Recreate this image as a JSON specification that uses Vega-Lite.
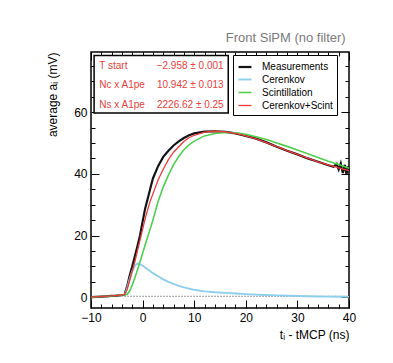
{
  "$schema": "https://vega.github.io/schema/vega-lite/v6.json",
  "width": 258,
  "height": 256,
  "autosize": {"type": "none"},
  "padding": {"left": 91, "top": 52, "right": 44, "bottom": 55},
  "background": "white",
  "config": {"font": "Liberation Sans", "view": {"stroke": "black", "strokeWidth": 1.5}},
  "title": {"text": "Front SiPM (no filter)", "anchor": "end", "fontSize": 13, "fontWeight": "normal", "color": "#7a7a7a", "offset": 7, "dx": -10, "font": "Liberation Sans"},
  "datasets": {
    "curves": [
      {"t": -10, "a": 0, "series": "Measurements"}, {"t": -9, "a": 0.1, "series": "Measurements"}, {"t": -8, "a": 0.2, "series": "Measurements"}, {"t": -7, "a": 0.3, "series": "Measurements"}, {"t": -6, "a": 0.4, "series": "Measurements"}, {"t": -5, "a": 0.5, "series": "Measurements"}, {"t": -4, "a": 0.65, "series": "Measurements"}, {"t": -3.5, "a": 0.8, "series": "Measurements"}, {"t": -3, "a": 3.5, "series": "Measurements"}, {"t": -2.5, "a": 7, "series": "Measurements"}, {"t": -2, "a": 10, "series": "Measurements"}, {"t": -1.5, "a": 13.3, "series": "Measurements"}, {"t": -1, "a": 16.5, "series": "Measurements"}, {"t": -0.5, "a": 20, "series": "Measurements"}, {"t": 0, "a": 24.5, "series": "Measurements"}, {"t": 0.5, "a": 28.8, "series": "Measurements"}, {"t": 1, "a": 32, "series": "Measurements"}, {"t": 1.5, "a": 35.3, "series": "Measurements"}, {"t": 2, "a": 38.5, "series": "Measurements"}, {"t": 3, "a": 42.5, "series": "Measurements"}, {"t": 4, "a": 45.5, "series": "Measurements"}, {"t": 5, "a": 47.5, "series": "Measurements"}, {"t": 6, "a": 49.2, "series": "Measurements"}, {"t": 7, "a": 50.5, "series": "Measurements"}, {"t": 8, "a": 51.6, "series": "Measurements"}, {"t": 9, "a": 52.5, "series": "Measurements"}, {"t": 10, "a": 53.1, "series": "Measurements"}, {"t": 12, "a": 53.7, "series": "Measurements"}, {"t": 14, "a": 53.8, "series": "Measurements"}, {"t": 16, "a": 53.6, "series": "Measurements"}, {"t": 18, "a": 53.1, "series": "Measurements"}, {"t": 20, "a": 52.3, "series": "Measurements"}, {"t": 22, "a": 51.4, "series": "Measurements"}, {"t": 24, "a": 50.2, "series": "Measurements"}, {"t": 26, "a": 48.8, "series": "Measurements"}, {"t": 28, "a": 47.5, "series": "Measurements"}, {"t": 30, "a": 46.3, "series": "Measurements"}, {"t": 32, "a": 45, "series": "Measurements"}, {"t": 34, "a": 43.9, "series": "Measurements"}, {"t": 36, "a": 42.8, "series": "Measurements"}, {"t": 37, "a": 42.3, "series": "Measurements"}, {"t": 37.6, "a": 43.2, "series": "Measurements"}, {"t": 38, "a": 41.4, "series": "Measurements"}, {"t": 38.4, "a": 43.4, "series": "Measurements"}, {"t": 38.8, "a": 40.3, "series": "Measurements"}, {"t": 39.2, "a": 42.9, "series": "Measurements"}, {"t": 39.5, "a": 39.8, "series": "Measurements"}, {"t": 39.8, "a": 42.4, "series": "Measurements"}, {"t": 40, "a": 40.8, "series": "Measurements"},
      {"t": -3.5, "a": 0.5, "series": "Cerenkov"}, {"t": -3, "a": 3, "series": "Cerenkov"}, {"t": -2.5, "a": 6, "series": "Cerenkov"}, {"t": -2, "a": 8.5, "series": "Cerenkov"}, {"t": -1.5, "a": 10.2, "series": "Cerenkov"}, {"t": -1, "a": 10.9, "series": "Cerenkov"}, {"t": -0.5, "a": 10.7, "series": "Cerenkov"}, {"t": 0, "a": 10.2, "series": "Cerenkov"}, {"t": 0.5, "a": 9.6, "series": "Cerenkov"}, {"t": 1, "a": 9, "series": "Cerenkov"}, {"t": 1.5, "a": 8.4, "series": "Cerenkov"}, {"t": 2, "a": 7.8, "series": "Cerenkov"}, {"t": 3, "a": 6.8, "series": "Cerenkov"}, {"t": 4, "a": 5.8, "series": "Cerenkov"}, {"t": 5, "a": 5, "series": "Cerenkov"}, {"t": 6, "a": 4.3, "series": "Cerenkov"}, {"t": 7, "a": 3.7, "series": "Cerenkov"}, {"t": 8, "a": 3.2, "series": "Cerenkov"}, {"t": 9, "a": 2.8, "series": "Cerenkov"}, {"t": 10, "a": 2.4, "series": "Cerenkov"}, {"t": 12, "a": 1.9, "series": "Cerenkov"}, {"t": 14, "a": 1.6, "series": "Cerenkov"}, {"t": 16, "a": 1.4, "series": "Cerenkov"}, {"t": 18, "a": 1.2, "series": "Cerenkov"}, {"t": 20, "a": 1.0, "series": "Cerenkov"}, {"t": 22, "a": 0.85, "series": "Cerenkov"}, {"t": 24, "a": 0.7, "series": "Cerenkov"}, {"t": 26, "a": 0.6, "series": "Cerenkov"}, {"t": 28, "a": 0.5, "series": "Cerenkov"}, {"t": 30, "a": 0.4, "series": "Cerenkov"}, {"t": 32, "a": 0.3, "series": "Cerenkov"}, {"t": 34, "a": 0.25, "series": "Cerenkov"}, {"t": 36, "a": 0.2, "series": "Cerenkov"}, {"t": 38, "a": 0.15, "series": "Cerenkov"}, {"t": 40, "a": 0.1, "series": "Cerenkov"},
      {"t": -10, "a": 0, "series": "Scintillation"}, {"t": -6, "a": 0.4, "series": "Scintillation"}, {"t": -3.5, "a": 0.8, "series": "Scintillation"}, {"t": -3, "a": 0.9, "series": "Scintillation"}, {"t": -2.5, "a": 2, "series": "Scintillation"}, {"t": -2, "a": 4, "series": "Scintillation"}, {"t": -1.5, "a": 6.3, "series": "Scintillation"}, {"t": -1, "a": 8.8, "series": "Scintillation"}, {"t": -0.5, "a": 11.5, "series": "Scintillation"}, {"t": 0, "a": 14.2, "series": "Scintillation"}, {"t": 0.5, "a": 17, "series": "Scintillation"}, {"t": 1, "a": 19.7, "series": "Scintillation"}, {"t": 1.5, "a": 22.3, "series": "Scintillation"}, {"t": 2, "a": 25, "series": "Scintillation"}, {"t": 3, "a": 31, "series": "Scintillation"}, {"t": 4, "a": 35.7, "series": "Scintillation"}, {"t": 5, "a": 39.6, "series": "Scintillation"}, {"t": 6, "a": 43, "series": "Scintillation"}, {"t": 7, "a": 45.6, "series": "Scintillation"}, {"t": 8, "a": 47.8, "series": "Scintillation"}, {"t": 9, "a": 49.4, "series": "Scintillation"}, {"t": 10, "a": 50.6, "series": "Scintillation"}, {"t": 12, "a": 52.3, "series": "Scintillation"}, {"t": 14, "a": 53.1, "series": "Scintillation"}, {"t": 16, "a": 53.4, "series": "Scintillation"}, {"t": 18, "a": 53.3, "series": "Scintillation"}, {"t": 20, "a": 52.8, "series": "Scintillation"}, {"t": 22, "a": 52, "series": "Scintillation"}, {"t": 24, "a": 51.1, "series": "Scintillation"}, {"t": 26, "a": 50, "series": "Scintillation"}, {"t": 28, "a": 48.9, "series": "Scintillation"}, {"t": 30, "a": 47.7, "series": "Scintillation"}, {"t": 32, "a": 46.5, "series": "Scintillation"}, {"t": 34, "a": 45.3, "series": "Scintillation"}, {"t": 36, "a": 44.1, "series": "Scintillation"}, {"t": 38, "a": 43, "series": "Scintillation"}, {"t": 40, "a": 41.8, "series": "Scintillation"},
      {"t": -10, "a": 0, "series": "Cerenkov+Scint"}, {"t": -6, "a": 0.4, "series": "Cerenkov+Scint"}, {"t": -3.5, "a": 0.8, "series": "Cerenkov+Scint"}, {"t": -3, "a": 2.5, "series": "Cerenkov+Scint"}, {"t": -2.5, "a": 5.5, "series": "Cerenkov+Scint"}, {"t": -2, "a": 8.5, "series": "Cerenkov+Scint"}, {"t": -1.5, "a": 11.5, "series": "Cerenkov+Scint"}, {"t": -1, "a": 15, "series": "Cerenkov+Scint"}, {"t": -0.5, "a": 18.5, "series": "Cerenkov+Scint"}, {"t": 0, "a": 22, "series": "Cerenkov+Scint"}, {"t": 0.5, "a": 25.5, "series": "Cerenkov+Scint"}, {"t": 1, "a": 28.5, "series": "Cerenkov+Scint"}, {"t": 1.5, "a": 31.3, "series": "Cerenkov+Scint"}, {"t": 2, "a": 33.5, "series": "Cerenkov+Scint"}, {"t": 3, "a": 38, "series": "Cerenkov+Scint"}, {"t": 4, "a": 41.5, "series": "Cerenkov+Scint"}, {"t": 5, "a": 44.6, "series": "Cerenkov+Scint"}, {"t": 6, "a": 47, "series": "Cerenkov+Scint"}, {"t": 7, "a": 48.8, "series": "Cerenkov+Scint"}, {"t": 8, "a": 50.5, "series": "Cerenkov+Scint"}, {"t": 9, "a": 51.7, "series": "Cerenkov+Scint"}, {"t": 10, "a": 52.5, "series": "Cerenkov+Scint"}, {"t": 12, "a": 53.5, "series": "Cerenkov+Scint"}, {"t": 14, "a": 53.8, "series": "Cerenkov+Scint"}, {"t": 16, "a": 53.6, "series": "Cerenkov+Scint"}, {"t": 18, "a": 53.1, "series": "Cerenkov+Scint"}, {"t": 20, "a": 52.3, "series": "Cerenkov+Scint"}, {"t": 22, "a": 51.3, "series": "Cerenkov+Scint"}, {"t": 24, "a": 50.1, "series": "Cerenkov+Scint"}, {"t": 26, "a": 48.8, "series": "Cerenkov+Scint"}, {"t": 28, "a": 47.5, "series": "Cerenkov+Scint"}, {"t": 30, "a": 46.3, "series": "Cerenkov+Scint"}, {"t": 32, "a": 45.1, "series": "Cerenkov+Scint"}, {"t": 34, "a": 43.9, "series": "Cerenkov+Scint"}, {"t": 36, "a": 42.9, "series": "Cerenkov+Scint"}, {"t": 38, "a": 41.9, "series": "Cerenkov+Scint"}, {"t": 40, "a": 41.0, "series": "Cerenkov+Scint"}
    ],
    "baseline": [
      {"t": -3.5, "a": 0.3}, {"t": 40, "a": 0.3}
    ],
    "one": [{}]
  },
  "layer": [
    {
      "data": {"name": "baseline"},
      "mark": {"type": "line", "color": "black", "strokeWidth": 0.8, "strokeDash": [1, 2]},
      "encoding": {
        "x": {"field": "t", "type": "quantitative", "scale": {"domain": [-10, 40], "nice": false, "zero": false},
          "axis": {"orient": "bottom", "values": [-10, 0, 10, 20, 30, 40], "labels": false, "domain": false, "grid": false, "title": null, "tickColor": "black", "tickWidth": 1, "tickSize": -8}},
        "y": {"field": "a", "type": "quantitative", "scale": {"domain": [-3.5, 79.5], "nice": false, "zero": false},
          "axis": {"orient": "left", "values": [0, 20, 40, 60], "labels": false, "domain": false, "grid": false, "title": null, "tickColor": "black", "tickWidth": 1, "tickSize": -8}}
      }
    },
    {
      "data": {"name": "curves"},
      "mark": {"type": "line", "interpolate": "linear"},
      "encoding": {
        "x": {"field": "t", "type": "quantitative",
          "axis": {"orient": "bottom", "values": [-10, 0, 10, 20, 30, 40], "ticks": false, "labelFlush": false, "labelOverlap": false, "domain": false, "grid": false, "labelPadding": 4, "labelFontSize": 12, "labelColor": "black", "title": "tᵢ - tMCP (ns)", "titleAnchor": "end", "titleFontSize": 12, "titleFontWeight": "normal", "titleColor": "black", "titlePadding": 6}},
        "y": {"field": "a", "type": "quantitative",
          "axis": {"orient": "left", "values": [0, 20, 40, 60], "ticks": false, "labelFlush": false, "labelOverlap": false, "domain": false, "grid": false, "labelPadding": 4, "labelFontSize": 12, "labelColor": "black", "title": "average aᵢ (mV)", "titleAnchor": "end", "titleFontSize": 12, "titleFontWeight": "normal", "titleColor": "black", "titlePadding": 14}},
        "color": {"field": "series", "type": "nominal",
          "scale": {"domain": ["Measurements", "Cerenkov", "Scintillation", "Cerenkov+Scint"], "range": ["#141414", "#8ccfee", "#4fcf4f", "#ee3a3a"]},
          "legend": {"orient": "none", "legendX": 142, "legendY": 3, "title": null, "fillColor": "white", "strokeColor": "black", "padding": 4, "symbolType": "stroke", "symbolSize": 169, "symbolStrokeWidth": 1.5, "labelFontSize": 10, "labelColor": "black", "rowPadding": 0, "labelOffset": 9}},
        "strokeWidth": {"field": "series", "type": "nominal", "scale": {"domain": ["Measurements", "Cerenkov", "Scintillation", "Cerenkov+Scint"], "range": [2.2, 1.3, 1.3, 1.3]}, "legend": null},
        "order": {"field": "t", "type": "quantitative"}
      }
    },
    {
      "data": {"name": "one"},
      "mark": {"type": "rect", "fill": "white", "stroke": "black", "strokeWidth": 1.5},
      "encoding": {
        "x": {"datum": -9.4, "axis": {"orient": "bottom", "values": [-8, -6, -4, -2, 2, 4, 6, 8, 12, 14, 16, 18, 22, 24, 26, 28, 32, 34, 36, 38], "labels": false, "domain": false, "grid": false, "title": null, "tickColor": "black", "tickWidth": 1, "tickSize": -4}},
        "x2": {"datum": 16.6},
        "y": {"datum": 78.4, "axis": {"orient": "left", "values": [5, 10, 15, 25, 30, 35, 45, 50, 55, 65, 70, 75], "labels": false, "domain": false, "grid": false, "title": null, "tickColor": "black", "tickWidth": 1, "tickSize": -4}},
        "y2": {"datum": 59.7}
      }
    },
    {
      "data": {"name": "one"},
      "mark": {"type": "text", "align": "left", "baseline": "top", "fontSize": 10, "color": "#e8403a", "lineHeight": 19.5, "font": "Liberation Sans"},
      "encoding": {
        "x": {"datum": -8.4, "axis": {"orient": "top", "values": [-10, 0, 10, 20, 30, 40], "labels": false, "domain": false, "grid": false, "title": null, "tickColor": "black", "tickWidth": 1, "tickSize": -8}},
        "y": {"datum": 76.6, "axis": {"orient": "right", "values": [0, 20, 40, 60], "labels": false, "domain": false, "grid": false, "title": null, "tickColor": "black", "tickWidth": 1, "tickSize": -8}},
        "text": {"value": ["T start", "Nc x A1pe", "Ns x A1pe"]}
      }
    },
    {
      "data": {"name": "one"},
      "mark": {"type": "text", "align": "right", "baseline": "top", "fontSize": 10, "color": "#e8403a", "lineHeight": 19.5, "font": "Liberation Sans"},
      "encoding": {
        "x": {"datum": 15.7, "axis": {"orient": "top", "values": [-8, -6, -4, -2, 2, 4, 6, 8, 12, 14, 16, 18, 22, 24, 26, 28, 32, 34, 36, 38], "labels": false, "domain": false, "grid": false, "title": null, "tickColor": "black", "tickWidth": 1, "tickSize": -4}},
        "y": {"datum": 76.6, "axis": {"orient": "right", "values": [5, 10, 15, 25, 30, 35, 45, 50, 55, 65, 70, 75], "labels": false, "domain": false, "grid": false, "title": null, "tickColor": "black", "tickWidth": 1, "tickSize": -4}},
        "text": {"value": ["−2.958 ± 0.001", "10.942 ± 0.013", "2226.62 ± 0.25"]}
      }
    }
  ],
  "resolve": {"axis": {"x": "independent", "y": "independent"}}
}
